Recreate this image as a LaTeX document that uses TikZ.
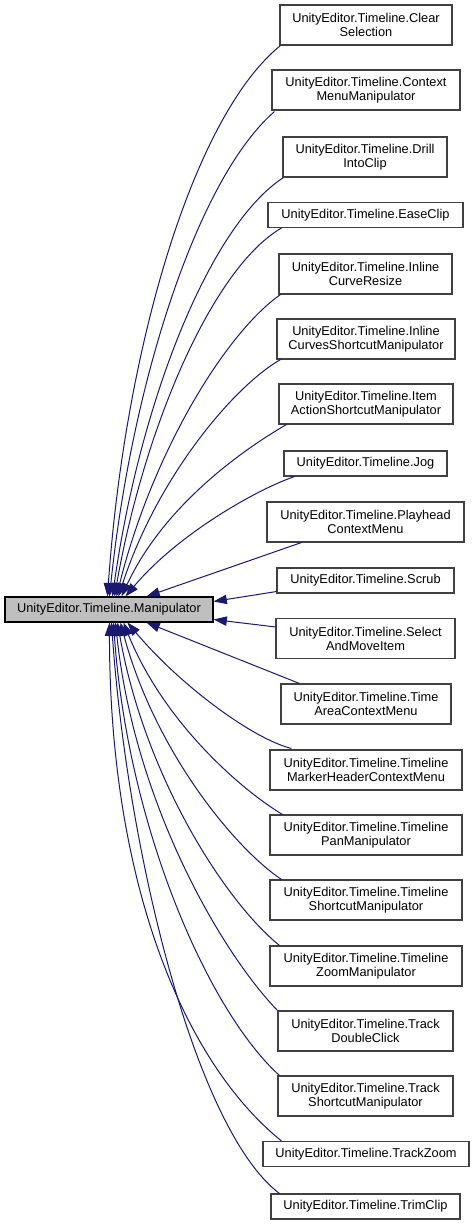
\documentclass[tikz,border=0pt]{standalone}
\usepackage{fontspec}
\setmainfont{Liberation Sans}
\usepackage{xcolor}
\usepackage{tikz}
\usetikzlibrary{arrows.meta,calc}
\definecolor{edgeblue}{HTML}{191970}
\definecolor{basegray}{HTML}{BFBFBF}
\definecolor{boxline}{HTML}{404040}

\tikzset{
  cls/.style={draw=boxline,line width=0.8pt,fill=white,align=center,inner sep=0pt,
    font=\fontsize{9.6}{10.6}\selectfont},
  wd/.style={minimum width=#1*0.75pt},
  one/.style={cls,minimum height=18.75pt},
  two/.style={cls,minimum height=30pt},
  inh/.style={draw=edgeblue,line width=0.75pt,-{Triangle[length=10pt,width=7pt]}}
}

\begin{document}
\begin{tikzpicture}[x=0.75pt,y=-0.75pt]
  \useasboundingbox (0,0) rectangle (475,1225);
  \node[one,fill=basegray,draw=black,wd=208]
    (base) at (109,609.5) {UnityEditor.Timeline.Manipulator};

  \node[two,wd=172] (clear)   at (366,25)   {UnityEditor.Timeline.Clear\\Selection};
  \node[two,wd=188] (ctxmenu) at (366,90)   {UnityEditor.Timeline.Context\\MenuManipulator};
  \node[two,wd=164] (drill)   at (365,157)  {UnityEditor.Timeline.Drill\\IntoClip};
  \node[one,wd=195] (ease)    at (365.5,215){UnityEditor.Timeline.EaseClip};
  \node[two,wd=173] (icresize) at (365.5,274) {UnityEditor.Timeline.Inline\\CurveResize};
  \node[two,wd=178] (icshort) at (366,339)  {UnityEditor.Timeline.Inline\\CurvesShortcutManipulator};
  \node[two,wd=174] (itemact) at (366,404)  {UnityEditor.Timeline.Item\\ActionShortcutManipulator};
  \node[one,wd=163] (jog)     at (365.5,463.5){UnityEditor.Timeline.Jog};
  \node[two,wd=197] (playctx) at (365.5,522){UnityEditor.Timeline.Playhead\\ContextMenu};
  \node[one,wd=177] (scrub)   at (365.5,580.5){UnityEditor.Timeline.Scrub};
  \node[two,wd=179] (selmove) at (365.5,638.5){UnityEditor.Timeline.Select\\AndMoveItem};
  \node[two,wd=170] (timearea) at (366,704) {UnityEditor.Timeline.Time\\AreaContextMenu};
  \node[two,wd=192] (mrkhdr)  at (366,770)  {UnityEditor.Timeline.Timeline\\MarkerHeaderContextMenu};
  \node[two,wd=192] (tlpan)   at (366,835)  {UnityEditor.Timeline.Timeline\\PanManipulator};
  \node[two,wd=192] (tlshort) at (366,900)  {UnityEditor.Timeline.Timeline\\ShortcutManipulator};
  \node[two,wd=192] (tlzoom)  at (366,966)  {UnityEditor.Timeline.Timeline\\ZoomManipulator};
  \node[two,wd=175] (trkdbl)  at (365.5,1031){UnityEditor.Timeline.Track\\DoubleClick};
  \node[two,wd=175] (trkshort) at (365.5,1096){UnityEditor.Timeline.Track\\ShortcutManipulator};
  \node[one,wd=206] (trkzoom) at (366,1154) {UnityEditor.Timeline.TrackZoom};
  \node[one,wd=189] (trim)    at (365.5,1206.5){UnityEditor.Timeline.TrimClip};

  \draw[inh] ($(clear.south west)+(1,0)$) to[out=219,in=86,out looseness=.5,in looseness=1.1] ($(base.north west)+(103,0)$);
  \draw[inh] ($(ctxmenu.south west)+(3,1)$) to[out=221,in=84,out looseness=.5,in looseness=1.1] ($(base.north west)+(105,0)$);
  \draw[inh] ($(drill.south west)+(1,0)$) to[out=213,in=82,out looseness=.5,in looseness=1.1] ($(base.north west)+(108,0)$);
  \draw[inh] ($(ease.south west)+(14,0)$) to[out=210,in=80,out looseness=.5,in looseness=1.1] ($(base.north west)+(110,0)$);
  \draw[inh] ($(icresize.south west)+(2,0)$) to[out=215,in=76,out looseness=.5,in looseness=1.1] ($(base.north west)+(112,0)$);
  \draw[inh] ($(icshort.south west)+(4,0)$) to[out=210,in=72,out looseness=.5,in looseness=1.1] ($(base.north west)+(114,0)$);
  \draw[inh] ($(itemact.south west)+(8,0)$) to[out=210,in=65,out looseness=.5,in looseness=1.1] ($(base.north west)+(117,0)$);
  \draw[inh] ($(jog.south west)+(11,0)$) to[out=199,in=50,out looseness=.5,in looseness=1] ($(base.north west)+(121,0)$);
  \draw[inh] ($(playctx.south west)+(35,0)$) -- ($(base.north west)+(142,0)$);
  \draw[inh] ($(scrub.south west)+(0,-2)$) -- ($(base.east)+(0,-8)$);
  \draw[inh] ($(selmove.north west)+(0,9)$) -- ($(base.east)+(0,10)$);
  \draw[inh] ($(timearea.north west)+(19,0)$) -- ($(base.south west)+(142,0)$);
  \draw[inh] ($(mrkhdr.north west)+(22,-1)$) to[out=166,in=-50,out looseness=.5,in looseness=1] ($(base.south west)+(123,0)$);
  \draw[inh] ($(tlpan.north west)+(13,0)$) to[out=149,in=-68,out looseness=.5,in looseness=1.1] ($(base.south west)+(119,0)$);
  \draw[inh] ($(tlshort.north west)+(12,0)$) to[out=146,in=-75,out looseness=.5,in looseness=1.1] ($(base.south west)+(116,0)$);
  \draw[inh] ($(tlzoom.north west)+(10,0)$) to[out=141,in=-80,out looseness=.5,in looseness=1.1] ($(base.south west)+(113,0)$);
  \draw[inh] ($(trkdbl.north west)+(0,0)$) to[out=134,in=-84,out looseness=.5,in looseness=1.1] ($(base.south west)+(111,0)$);
  \draw[inh] ($(trkshort.north west)+(2,0)$) to[out=138,in=-86,out looseness=.5,in looseness=1.1] ($(base.south west)+(109,0)$);
  \draw[inh] ($(trkzoom.north west)+(19,0)$) to[out=141,in=-90,out looseness=.6,in looseness=1.2] ($(base.south west)+(105,0)$);
  \draw[inh] ($(trim.north west)+(9,0)$) to[out=143,in=-86,out looseness=.45,in looseness=1] ($(base.south west)+(107,0)$);
\end{tikzpicture}
\end{document}
